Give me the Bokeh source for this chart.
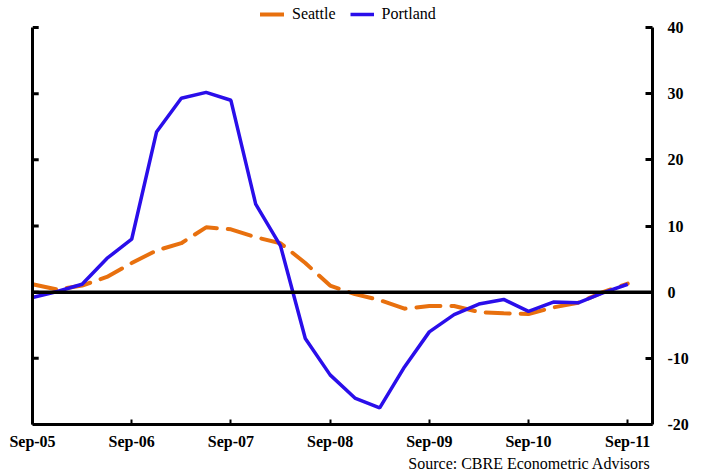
from bokeh.plotting import figure
from bokeh.models import (FixedTicker, LinearAxis, Span, Legend, LegendItem, Range1d, Title)
from bokeh.embed import file_html
from bokeh.resources import INLINE

# ---- data (quarterly, Sep-05 .. Sep-11) ----
quarters = list(range(25))
seattle = [1.2, 0.4, 1.0, 2.3, 4.4, 6.3, 7.4, 9.8, 9.5, 8.3, 7.4, 4.4, 1.0,
           -0.3, -1.2, -2.5, -2.1, -2.1, -3.0, -3.2, -3.3, -2.3, -1.6, 0.0, 1.3]
portland = [-0.8, 0.1, 1.2, 5.1, 8.0, 24.2, 29.3, 30.2, 29.0, 13.3, 7.0, -7.0,
            -12.5, -16.0, -17.5, -11.3, -6.0, -3.4, -1.8, -1.1, -2.9, -1.5,
            -1.6, -0.1, 1.2]
x_tick_pos = [0, 4, 8, 12, 16, 20, 24]
x_tick_labels = ["Sep-05", "Sep-06", "Sep-07", "Sep-08", "Sep-09", "Sep-10", "Sep-11"]
y_ticks = [-20, -10, 0, 10, 20, 30, 40]
y_tick_labels = ["-20", "-10", "0", "10", "20", "30", "40"]
series_names = ["Seattle", "Portland"]
source_text = "Source: CBRE Econometric Advisors"

ORANGE = "#E8700E"
BLUE = "#2A0EEA"
SERIF = "Liberation Serif"

# frame reaches the top of the canvas so the legend (inside the frame) is visible;
# the axes are bounded to the -20..40 value range
y_lo, y_hi = y_ticks[0], y_ticks[-1]
y_top = y_hi + 27 * (y_hi - y_lo) / 397.0
x_rng = Range1d(0, 25)
p = figure(frame_width=620, frame_height=424,
           x_range=x_rng, y_range=Range1d(y_lo, y_top),
           output_backend="svg", toolbar_location=None,
           min_border_left=32, min_border_right=61,
           min_border_top=0, min_border_bottom=48)
p.outline_line_color = None
p.xgrid.visible = False
p.ygrid.visible = False
p.background_fill_color = "white"
p.border_fill_color = "white"

# left axis: spine only; inward ticks drawn as short segments
p.yaxis.ticker = FixedTicker(ticks=[])
p.yaxis.bounds = (y_lo, y_hi)
p.yaxis.minor_tick_line_color = None
p.yaxis.major_tick_line_color = None
p.yaxis.axis_line_width = 3
tick_len = 0.25  # in quarters (~6 px)
p.segment(x0=[x_rng.start] * len(y_ticks), y0=y_ticks,
          x1=[x_rng.start + tick_len] * len(y_ticks), y1=y_ticks,
          line_color="black", line_width=3)

# bottom axis with labels
p.xaxis.ticker = FixedTicker(ticks=x_tick_pos)
p.xaxis.major_label_overrides = {t: l for t, l in zip(x_tick_pos, x_tick_labels)}
p.xaxis.major_label_text_font = SERIF
p.xaxis.major_label_text_font_style = "bold"
p.xaxis.major_label_text_font_size = "16px"
p.xaxis.major_label_text_color = "black"
p.xaxis.major_label_standoff = 8
p.xaxis.major_tick_in = 5
p.xaxis.major_tick_out = 0
p.xaxis.minor_tick_line_color = None
p.xaxis.axis_line_width = 3
p.xaxis.major_tick_line_width = 2

# source note, right-aligned under the axis
p.add_layout(Title(text=source_text, align="right", text_font=SERIF,
                   text_font_style="normal", text_font_size="16px",
                   text_color="black", standoff=0, offset=2), "below")

# right axis with labels
ra = LinearAxis(ticker=FixedTicker(ticks=y_ticks), bounds=(y_lo, y_hi),
                major_label_overrides={t: l for t, l in zip(y_ticks, y_tick_labels)})
ra.major_label_text_font = SERIF
ra.major_label_text_font_style = "bold"
ra.major_label_text_font_size = "16px"
ra.major_label_text_color = "black"
ra.major_label_standoff = 15
ra.major_tick_in = 7
ra.major_tick_out = 0
ra.minor_tick_line_color = None
ra.axis_line_width = 3
ra.major_tick_line_width = 3
p.add_layout(ra, "right")

# series
r_sea = p.line(quarters, seattle, line_color=ORANGE, line_width=4,
               line_dash="24 11", line_cap="round")
r_por = p.line(quarters, portland, line_color=BLUE, line_width=3.5)

# zero line
p.add_layout(Span(location=0, dimension="width", line_color="black", line_width=3.5))

# legend (inside the frame, above the value area)
legend = Legend(items=[LegendItem(label=series_names[0], renderers=[r_sea]),
                       LegendItem(label=series_names[1], renderers=[r_por])],
                orientation="horizontal", location=(228, 401),
                padding=0, margin=0, spacing=14, label_standoff=8,
                glyph_width=24, glyph_height=16, label_height=16,
                label_text_font=SERIF, label_text_font_size="16px",
                label_text_color="black",
                border_line_color=None, background_fill_alpha=0)
p.add_layout(legend, "center")

open("out.html", "w").write(file_html(p, INLINE))
